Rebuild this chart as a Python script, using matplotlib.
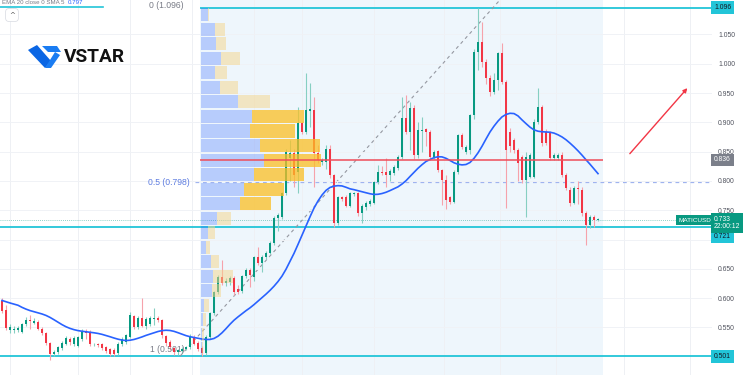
import numpy as np
import pandas as pd
import matplotlib
matplotlib.use("Agg")
import matplotlib.pyplot as plt
import matplotlib.transforms as mtransforms
from matplotlib.patches import Polygon

# ---- data ----
opens = [
    .596, .580, .546, .546, .545, .543, .556, .562, .558, .560,
    .548, .541, .523, .505, .508, .515, .522, .531, .522, .518,
    .530, .544, .543, .521, .521, .521, .517, .513, .512, .506,
    .522, .525, .534, .569, .551, .566, .552, .556, .565, .567,
    .563, .536, .525, .515, .508, .510, .513, .517, .534, .524,
    .515, .506, .534, .574, .610, .636, .626, .627, .634, .616,
    .612, .638, .648, .636, .670, .660, .670, .677, .694, .737,
    .739, .779, .840, .848, .815, .899, .883, .920, .921, .848,
    .832, .832, .854, .810, .728, .772, .772, .758, .778, .779,
    .745, .756, .760, .762, .798, .816, .815, .811, .813, .822,
    .841, .907, .884, .925, .844, .886, .888, .884, .841, .851,
    .819, .802, .772, .764, .815, .878, .850, .853, .912, 1.020,
    1.037, 1.003, .976, .952, .972, 1.018, .969, .884, .870, .853,
    .841, .802, .807, .807, .901, .926, .884, .881, .839, .839,
    .844, .810, .785, .762, .788, .785, .745, .725, .739, .733]
highs = [
    .600, .588, .556, .552, .553, .558, .568, .572, .566, .562,
    .550, .543, .525, .512, .518, .527, .535, .534, .536, .536,
    .548, .547, .546, .524, .523, .523, .519, .515, .515, .525,
    .533, .539, .576, .572, .570, .600, .568, .570, .583, .569,
    .565, .538, .528, .517, .514, .517, .518, .539, .537, .527,
    .518, .537, .577, .613, .640, .665, .634, .638, .637, .622,
    .640, .652, .652, .672, .687, .674, .680, .697, .740, .745,
    .782, .855, .870, .855, .926, .902, .984, .967, .943, .862,
    .840, .862, .862, .812, .775, .775, .776, .782, .782, .781,
    .761, .765, .770, .800, .828, .825, .839, .820, .827, .845,
    .943, .947, .935, .930, .900, .910, .890, .887, .852, .853,
    .821, .810, .775, .818, .880, .882, .862, .915, 1.025, 1.096,
    1.071, 1.008, .980, .985, 1.020, 1.035, .972, .890, .874, .856,
    .845, .850, .848, .905, .958, .930, .888, .885, .848, .848,
    .850, .813, .790, .792, .800, .790, .748, .742, .742, .736]
lows = [
    .575, .545, .541, .540, .542, .540, .552, .548, .556, .545,
    .538, .520, .494, .502, .505, .512, .520, .520, .519, .516,
    .527, .530, .518, .518, .517, .512, .506, .502, .501, .503,
    .519, .522, .532, .548, .548, .550, .548, .552, .555, .560,
    .532, .518, .512, .503, .503, .507, .511, .514, .520, .510,
    .501, .503, .531, .571, .607, .622, .620, .622, .606, .607,
    .608, .634, .619, .630, .657, .645, .667, .675, .690, .715,
    .735, .776, .800, .790, .779, .880, .880, .892, .790, .830,
    .828, .820, .805, .722, .725, .765, .755, .755, .775, .740,
    .728, .750, .757, .760, .795, .810, .790, .800, .810, .818,
    .838, .880, .853, .838, .840, .850, .860, .835, .838, .815,
    .759, .752, .760, .762, .812, .855, .846, .846, .905, .990,
    .995, .965, .945, .948, .955, .965, .754, .850, .848, .800,
    .797, .738, .805, .805, .898, .860, .862, .835, .836, .836,
    .806, .784, .758, .760, .760, .740, .691, .720, .722, .731]
closes = [
    .578, .549, .550, .547, .549, .556, .562, .561, .561, .548,
    .541, .523, .505, .509, .516, .524, .532, .526, .532, .533,
    .543, .540, .521, .522, .520, .515, .510, .505, .505, .522,
    .530, .537, .571, .551, .566, .553, .565, .566, .566, .563,
    .537, .523, .516, .508, .511, .514, .516, .534, .522, .513,
    .506, .534, .574, .610, .636, .626, .630, .634, .611, .610,
    .638, .648, .640, .670, .660, .671, .677, .694, .737, .742,
    .779, .849, .848, .810, .899, .883, .921, .922, .848, .835,
    .836, .854, .810, .728, .772, .770, .758, .779, .779, .745,
    .758, .762, .766, .798, .815, .814, .811, .817, .824, .841,
    .907, .884, .925, .844, .887, .887, .884, .841, .849, .819,
    .802, .767, .764, .815, .878, .858, .858, .912, 1.020, 1.037,
    1.003, .976, .952, .972, 1.018, .969, .853, .860, .853, .831,
    .802, .841, .844, .901, .926, .864, .865, .839, .844, .844,
    .810, .788, .762, .788, .786, .745, .725, .739, .733, .733]

ema_seed = 0.598
price_ticks = [0.550, 0.600, 0.650, 0.700, 0.750, 0.800, 0.850, 0.900, 0.950, 1.000, 1.050]
hidden_ticks = [0.700]   # covered by the 0.721 label on the price scale

# volume profile, bottom bin first (0.501 -> 1.096, 24 rows)
vp_low, vp_high = 0.501, 1.096
vol_up = [1, 1, 2, 3, 11, 12, 10, 5, 7, 16, 39, 43, 53, 63, 59, 49, 51, 37, 19, 14, 20, 15, 14, 7]
vol_down = [1, 2, 3, 5, 9, 20, 8, 4, 7, 14, 31, 40, 50, 57, 60, 45, 52, 32, 18, 12, 19, 10, 10, 1]
value_area = (10, 16)

levels = {"high": 1.096, "low": 0.501, "mid": 0.798, "poc": 0.836, "support": 0.721, "last": 0.733}
time_grid = [2, 19, 32, 47.5, 63, 75, 93, 110.5, 124.5, 138.5, 155.5, 172]

# ---- figure ----
W, H = 750, 375
fig = plt.figure(figsize=(W / 100, H / 100), dpi=100, facecolor="white")
ax = fig.add_axes([0, 0, 712 / W, 1])
ax.set_facecolor("white")
for s in ax.spines.values():
    s.set_visible(False)

x = np.arange(len(closes))
o = np.array(opens); c = np.array(closes); hi = np.array(highs); lo = np.array(lows)
up = c >= o

GREEN, RED = "#089981", "#f23645"
CYAN = "#22c5d8"

ax.set_xlim(-0.5, 177.5)
ax.set_ylim(0.4689, 1.1088)

# backgrounds / grid
ax.axvspan(49.5, 150.25, color="#eef6fc", zorder=0, lw=0)
for g in time_grid:
    ax.axvline(g, color="#eef0f4", lw=0.7, zorder=0.3)
ax.set_yticks(price_ticks)
ax.set_yticklabels(["" if t in hidden_ticks else f"{t:.3f}" for t in price_ticks])
ax.yaxis.tick_right()
ax.tick_params(axis="y", length=0, pad=4.3, labelsize=4.9, labelcolor="#50535e")
for lab in ax.get_yticklabels():
    lab.set_family("Liberation Sans")
ax.set_xticks([])
ax.grid(axis="y", color="#f0f2f6", lw=0.7, zorder=0.3)

# horizontal levels
ax.axhline(levels["low"], color=CYAN, lw=1.3, zorder=1)
ax.axhline(levels["support"], color=CYAN, lw=1.3, zorder=1)
ax.hlines(levels["high"], 49.5, 177.5, color=CYAN, lw=1.3, zorder=1)
ax.hlines(levels["mid"], 48.3, 177.5, color="#9fb3ef", lw=0.9, ls=(0, (3, 3)), zorder=1)
ax.axhline(levels["last"], color=GREEN, lw=0.6, ls=(0, (1, 1.5)), alpha=0.6, zorder=1)

# fib trend line
ax.plot([44.5, 124.5], [0.501, 1.109], color="#9598a1", lw=0.8, ls=(0, (3, 3)), zorder=1.5)

# candles
ax.vlines(x[up], lo[up], hi[up], color="#86cfc2", lw=0.8, zorder=2)
ax.vlines(x[~up], lo[~up], hi[~up], color="#f6a2ab", lw=0.8, zorder=2)
body = np.maximum(np.abs(c - o), 0.0016)
ax.bar(x[up], body[up], bottom=np.minimum(o, c)[up], width=0.74, color=GREEN, zorder=3, lw=0)
ax.bar(x[~up], body[~up], bottom=np.minimum(o, c)[~up], width=0.74, color=RED, zorder=3, lw=0)

# EMA 20 smoothed with SMA 5
ema = pd.Series([ema_seed] + closes).ewm(span=20, adjust=False).mean()[1:]
ema_s = ema.rolling(5, min_periods=1).mean().to_numpy()
ax.plot(x, ema_s, color="#2962ff", lw=1.2, zorder=4)

# volume profile
n_bins = len(vol_up)
step = (vp_high - vp_low) / n_bins
centers = vp_low + step * (np.arange(n_bins) + 0.5)
px = 0.25
vp_left = 49.7
in_va = (np.arange(n_bins) >= value_area[0]) & (np.arange(n_bins) <= value_area[1])
vu = np.array(vol_up) * px
vd = np.array(vol_down) * px
ax.barh(centers, vu, left=vp_left, height=step * 0.9, color="#2962ff", alpha=0.28, lw=0, zorder=5)
ax.barh(centers[in_va], vd[in_va], left=vp_left + vu[in_va], height=step * 0.9,
        color="#fbbf24", alpha=0.75, lw=0, zorder=5)
ax.barh(centers[~in_va], vd[~in_va], left=vp_left + vu[~in_va], height=step * 0.9,
        color="#f5d58a", alpha=0.5, lw=0, zorder=5)
ax.hlines(levels["poc"], 49.5, 150.25, color="#ef4d5a", lw=1.1, zorder=6)

# fib labels
fib_kw = dict(fontsize=6.2, ha="right", va="center", family="Liberation Sans", zorder=2)
ax.text(45.3, 1.100, "0 (1.096)", color="#787b86", **fib_kw)
ax.text(47.0, 0.798, "0.5 (0.798)", color="#5d7ce0", **fib_kw)
ax.text(45.6, 0.512, "1 (0.501)", color="#787b86", **fib_kw)

# arrow
ax.annotate("", xy=(171.8, 0.962), xytext=(156.5, 0.843),
            arrowprops=dict(arrowstyle="-|>", color="#f23645", lw=1.0, mutation_scale=6),
            zorder=7)

# price scale boxes
trans = mtransforms.blended_transform_factory(ax.transAxes, ax.transData)
def price_box(y, s, fc, tc, va="center"):
    ax.text(1.0 + 2 / 712, y, s, transform=trans, fontsize=4.9, color=tc, ha="left", va=va,
            family="Liberation Sans", linespacing=1.15,
            bbox=dict(boxstyle="square,pad=0.42", fc=fc, ec="none"), clip_on=False, zorder=20)

price_box(1.096, "1.096", CYAN, "#131722")
price_box(0.836, "0.836", "#7b7f8a", "white")
price_box(0.705, "0.721", CYAN, "#131722")
price_box(0.501, "0.501", CYAN, "#131722")
price_box(0.741, "0.733\n22:00:12", GREEN, "white", va="top")
ax.text(1.0 - 1 / 712, 0.733, "MATICUSD", transform=trans, fontsize=4.6, color="white",
        ha="right", va="center", family="Liberation Sans",
        bbox=dict(boxstyle="square,pad=0.35", fc=GREEN, ec="none"), clip_on=False, zorder=20)

# legend line at top
fig.text(2 / W, 1 - 4.5 / H, "EMA 20 close 0 SMA 5", fontsize=4.4, color="#787b86",
         family="Liberation Sans", va="baseline")
fig.text(68 / W, 1 - 4.5 / H, "0.797", fontsize=4.4, color="#2962ff",
         family="Liberation Sans", va="baseline")
fig.add_artist(plt.Line2D([0, 103 / W], [1 - 7 / H, 1 - 7 / H], color=CYAN, lw=1.2))
fig.text(12 / W, 1 - 15 / H, "^", fontsize=5, color="#555", ha="center", va="center",
         bbox=dict(boxstyle="round,pad=0.5", fc="white", ec="#d6d9e0", lw=0.5))

# logo
def fpoly(pts, col):
    p = Polygon([(a / W, 1 - b / H) for a, b in pts], closed=True, fc=col, ec="none",
                transform=fig.transFigure)
    fig.add_artist(p)
fpoly([(28, 50), (37, 45), (51, 61), (45, 68)], "#0b66e4")
fpoly([(45, 68), (55, 52), (60, 55), (51, 68)], "#1a7cf2")
fpoly([(42, 46), (57, 46), (61, 52), (48, 52)], "#1a7cf2")
fig.text(64 / W, 1 - 56.5 / H, "VSTAR", fontsize=13.8, fontweight="bold", color="#111111",
         family="Roboto", va="center", ha="left")

fig.savefig("out.png", dpi=100, facecolor="white")
